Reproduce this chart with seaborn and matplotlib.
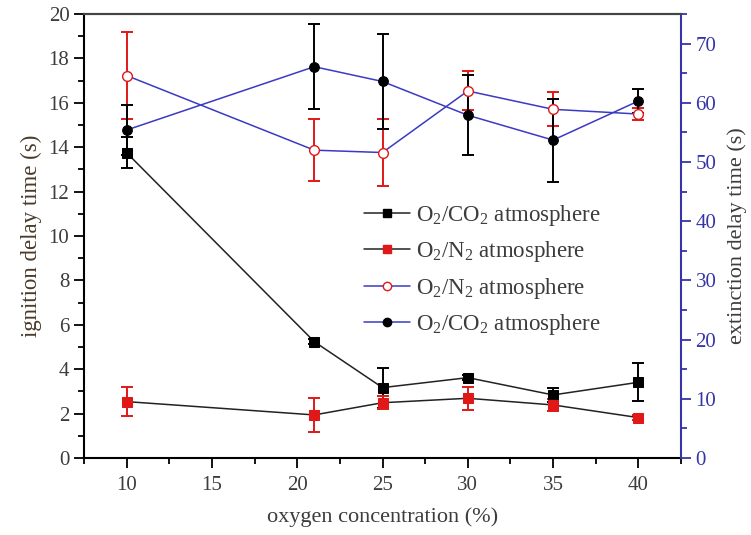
import numpy as np
import pandas as pd
import matplotlib
matplotlib.use("Agg")
import matplotlib.pyplot as plt
import seaborn as sns
from matplotlib.lines import Line2D
from matplotlib.ticker import MultipleLocator

# ---- data ----
oxygen = [10, 21, 25, 30, 35, 40]
ign_co2 = [13.75, 5.24, 3.17, 3.62, 2.84, 3.41]
ign_co2_err = [0.7, 0.1, 0.9, 0.1, 0.3, 0.86]
ign_n2 = [2.54, 1.94, 2.49, 2.69, 2.39, 1.82]
ign_n2_err = [0.64, 0.78, 0.3, 0.53, 0.28, 0.1]
ext_n2 = [64.6, 52.0, 51.6, 62.0, 58.9, 58.1]
ext_n2_err = [7.3, 5.2, 5.6, 3.3, 2.9, 1.0]
ext_co2 = [55.4, 66.1, 63.6, 57.9, 53.7, 60.3]
ext_co2_err = [4.3, 7.2, 8.0, 6.8, 7.0, 2.0]
legend_labels = [r"O$_2$/CO$_2$ atmosphere", r"O$_2$/N$_2$ atmosphere",
                 r"O$_2$/N$_2$ atmosphere", r"O$_2$/CO$_2$ atmosphere"]

df = pd.DataFrame({"oxygen": oxygen, "ign_co2": ign_co2, "ign_n2": ign_n2,
                   "ext_n2": ext_n2, "ext_co2": ext_co2})

sns.set_style("ticks")
plt.rcParams["font.family"] = ["Liberation Serif", "DejaVu Serif"]
plt.rcParams["mathtext.fontset"] = "custom"
plt.rcParams["mathtext.rm"] = "Liberation Serif"
plt.rcParams["mathtext.it"] = "Liberation Serif:italic"

BLUE = "#3a3ac4"
RED = "#e01818"
GRAY = "#3c3c3c"
RBLUE = "#3535a8"

fig = plt.figure(figsize=(7.51, 5.35), dpi=100)
ax = fig.add_axes([84 / 751, 1 - 458 / 535, (681 - 84) / 751, (458 - 14) / 535])
ax2 = ax.twinx()

# ignition (left axis)
ax.errorbar(oxygen, ign_co2, yerr=ign_co2_err, fmt="none", ecolor="black",
            elinewidth=1.4, capsize=4, capthick=1.4, zorder=2)
ax.errorbar(oxygen, ign_n2, yerr=ign_n2_err, fmt="none", ecolor=RED,
            elinewidth=1.4, capsize=4, capthick=1.4, zorder=2)
sns.lineplot(data=df, x="oxygen", y="ign_co2", ax=ax, color="#222222", lw=1.1,
             marker="s", markersize=7, markerfacecolor="black",
             markeredgecolor="black", legend=False, zorder=3)
sns.lineplot(data=df, x="oxygen", y="ign_n2", ax=ax, color="#222222", lw=1.1,
             marker="s", markersize=7, markerfacecolor=RED,
             markeredgecolor=RED, legend=False, zorder=3)

# extinction (right axis)
ax2.errorbar(oxygen, ext_n2, yerr=ext_n2_err, fmt="none", ecolor=RED,
             elinewidth=1.4, capsize=4, capthick=1.4, zorder=2)
ax2.errorbar(oxygen, ext_co2, yerr=ext_co2_err, fmt="none", ecolor="black",
             elinewidth=1.4, capsize=4, capthick=1.4, zorder=2)
sns.lineplot(data=df, x="oxygen", y="ext_n2", ax=ax2, color=BLUE, lw=1.1,
             marker="o", markersize=7, markerfacecolor="white",
             markeredgecolor=RED, markeredgewidth=1.0, legend=False, zorder=3)
sns.lineplot(data=df, x="oxygen", y="ext_co2", ax=ax2, color=BLUE, lw=1.1,
             marker="o", markersize=7, markerfacecolor="black",
             markeredgecolor="black", legend=False, zorder=3)

# axes formatting
ax.set_xlim(7.5, 42.5)
ax.set_ylim(0, 20)
ax2.set_ylim(0, 75)
ax.xaxis.set_major_locator(MultipleLocator(5))
ax.xaxis.set_minor_locator(MultipleLocator(2.5))
ax.yaxis.set_major_locator(MultipleLocator(2))
ax.yaxis.set_minor_locator(MultipleLocator(1))
ax2.yaxis.set_major_locator(MultipleLocator(10))
ax2.yaxis.set_minor_locator(MultipleLocator(5))

for a in (ax, ax2):
    for s in a.spines.values():
        s.set_linewidth(1.5)
ax.spines["top"].set_color("#444444")
ax.spines["left"].set_color("black")
ax.spines["bottom"].set_color("black")
ax2.spines["right"].set_color(RBLUE)
ax2.spines["top"].set_color("#444444")
ax.spines["right"].set_visible(False)
ax2.spines["left"].set_visible(False)
ax2.spines["bottom"].set_visible(False)

ax.tick_params(axis="both", which="major", direction="out", length=7, width=1.3,
               labelsize=15, labelcolor=GRAY, color="black")
ax.tick_params(axis="both", which="minor", direction="out", length=4, width=1.3,
               color="black")
ax.tick_params(axis="x", pad=6)
ax2.tick_params(axis="y", which="major", direction="out", length=7, width=1.3,
                labelsize=15, labelcolor=RBLUE, color=RBLUE)
ax2.tick_params(axis="y", which="minor", direction="out", length=4, width=1.3,
                color=RBLUE)

ax.set_xlabel("oxygen concentration (%)", fontsize=16, color=GRAY, labelpad=9)
ax.set_ylabel("ignition delay time (s)", fontsize=16.5, color="#4a3a2a", labelpad=5)
ax2.set_ylabel("extinction delay time (s)", fontsize=16, color=GRAY, labelpad=8)

handles = [
    Line2D([], [], color="#222222", lw=1.1, marker="s", markersize=6,
           markerfacecolor="black", markeredgecolor="black"),
    Line2D([], [], color="#222222", lw=1.1, marker="s", markersize=6,
           markerfacecolor=RED, markeredgecolor=RED),
    Line2D([], [], color=BLUE, lw=1.1, marker="o", markersize=6,
           markerfacecolor="white", markeredgecolor=RED),
    Line2D([], [], color=BLUE, lw=1.1, marker="o", markersize=6,
           markerfacecolor="black", markeredgecolor="black"),
]
leg = ax2.legend(handles, legend_labels, loc="upper left",
                 bbox_to_anchor=(364 / 751, 1 - 203 / 535),
                 bbox_transform=fig.transFigure, frameon=False, fontsize=16.5,
                 handlelength=2.0, handletextpad=0.25, labelspacing=0.5,
                 borderaxespad=0, borderpad=0)
for t in leg.get_texts():
    t.set_color(GRAY)

fig.savefig("out.png", dpi=100)
